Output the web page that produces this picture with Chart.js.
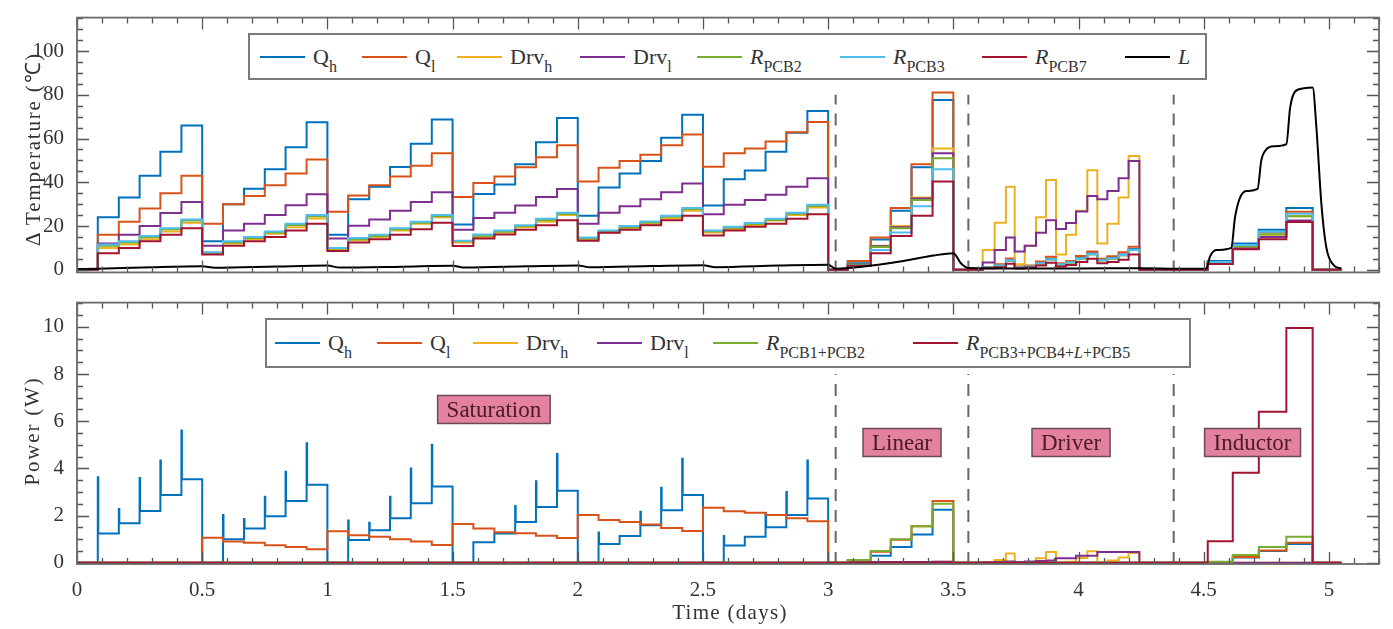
<!DOCTYPE html>
<html>
<head>
<meta charset="utf-8">
<script src="https://cdn.jsdelivr.net/npm/chart.js@4.4.1/dist/chart.umd.min.js"></script>
<style>
  body { margin: 0; background: #fff; }
  #wrap { position: relative; width: 1393px; height: 629px; overflow: hidden;
          font-family: 'Liberation Serif', 'Times New Roman', serif; color: #333; }
  canvas { position: absolute; left: 0; }
  #cTop { top: 0; }
  #cBot { top: 285px; }
  .legend { position: absolute; background: #fff; border: 2px solid #7a7a7a; box-sizing: border-box; }
  .item { position: absolute; top: 0; height: 100%; display: flex; align-items: center;
          font-size: 22px; white-space: nowrap; color: #333; }
  .item .ln { display: inline-block; width: 45px; height: 2px; margin-right: 8px; }
  .item sub { font-size: 16px; vertical-align: -8px; line-height: 0; }
  .ytitle { position: absolute; transform: translate(-50%, -50%) rotate(-90deg);
            white-space: nowrap; font-size: 21px; letter-spacing: 1.8px; color: #333; }
  .xtitle { position: absolute; transform: translate(-50%, -50%);
            white-space: nowrap; font-size: 21px; letter-spacing: 1.3px; color: #333; }
</style>
</head>
<body>
<div id="wrap">
  <canvas id="cTop" width="1393" height="290"></canvas>
  <canvas id="cBot" width="1393" height="344"></canvas>
  <div class="legend" id="legTop" style="left:248px;top:33px;width:959px;height:47px"></div>
  <div class="legend" id="legBot" style="left:265px;top:318px;width:926px;height:50px"></div>
  <div class="ytitle" style="left:32px;top:149px">Δ Temperature (℃)</div>
  <div class="ytitle" style="left:32px;top:431px">Power (W)</div>
  <div class="xtitle" style="left:730px;top:612px">Time (days)</div>
</div>
<script>
// ---- axes ----
const xMax = 5.2;
const xMajor = [0, 0.5, 1, 1.5, 2, 2.5, 3, 3.5, 4, 4.5, 5];
const tempTicks = [0, 20, 40, 60, 80, 100];
const powerTicks = [0, 2, 4, 6, 8, 10];
const phaseBounds = [3.03, 3.56, 4.38];

// ---- time breakpoints (days); a level holds from its time to the next one ----
const tSat = [0, 0.083, 0.167, 0.25, 0.333, 0.417, 0.5, 0.583, 0.667, 0.75, 0.833, 0.917,
  1.0, 1.083, 1.167, 1.25, 1.333, 1.417, 1.5, 1.583, 1.667, 1.75, 1.833, 1.917,
  2.0, 2.083, 2.167, 2.25, 2.333, 2.417, 2.5, 2.583, 2.667, 2.75, 2.833, 2.917, 3.0];
const tLin = [3.078, 3.17, 3.25, 3.333, 3.417, 3.5];
const tDrv = [3.617, 3.665, 3.71, 3.745, 3.785, 3.83, 3.87, 3.91, 3.95, 3.99, 4.035, 4.075,
  4.115, 4.16, 4.2, 4.243];
const tInd = [4.516, 4.616, 4.72, 4.83, 4.935];
const tEnd = 5.05;

// ---- temperature rise (°C) ----
const tempQh = {
  sat: [0, 24, 33, 43, 54, 66, 13, 30, 37, 46, 56, 67.5, 16, 32.3, 38, 47, 57.6, 68.7,
    20.7, 34.7, 39, 48.3, 58.3, 69.4, 24.7, 37.6, 44, 49.7, 60.4, 70.9, 29.4, 41.4, 45.4, 54, 62.6, 72.6, 0],
  lin: [3.0, 13.8, 27, 46.9, 77.6, 0],
  drv: [1, 2, 4.5, 1, 1.5, 3, 5, 2.5, 3.5, 5.5, 7.5, 4.5, 5.5, 7, 9.5, 0],
  ind: [4, 12, 18.3, 28.3, 0]
};
const tempQl = {
  sat: [0, 16, 22, 28, 35, 43, 21, 30, 33.7, 38.6, 44, 50.4, 26.5, 34, 38.6, 42.6, 47.6, 53.3,
    33.3, 39.7, 42.6, 46.9, 51.4, 56.9, 40.4, 46.6, 49.7, 52.6, 56.9, 61.9, 47.1, 53.3, 55.4, 58.6, 62.9, 67.6, 0],
  lin: [4.0, 14.7, 28.3, 48.3, 81, 0],
  drv: [1.2, 2.5, 5.2, 1.5, 2, 3.8, 6, 3, 4, 6.3, 8.3, 5, 6.2, 8, 10.5, 0],
  ind: [3.6, 11.2, 17.2, 26.5, 0]
};
const tempDrvh = {
  sat: [0, 10, 11.5, 14, 17.5, 21.5, 7.5, 12, 14, 16.5, 19.5, 23.5, 9.5, 13.5, 15, 18, 21, 24,
    12.5, 15, 17, 19.5, 22, 25, 14, 17, 19, 21, 23.5, 27, 17, 18.5, 20.5, 22.5, 25, 28.5, 0],
  lin: [2.3, 11, 20, 33, 55.4, 0],
  drv: [9, 21.5, 38, 2.5, 11, 24, 41, 7, 16, 27, 45.5, 12, 21, 33, 52, 0],
  ind: [3, 10.2, 16, 24.5, 0]
};
const tempDrvl = {
  sat: [0, 12, 16, 20, 26, 31, 11, 18, 21, 25, 29.5, 34.5, 14.3, 20.1, 23, 27, 31, 35.4,
    18.3, 23.7, 26.1, 29.4, 33.3, 36.9, 21, 26.1, 29, 32.3, 35.4, 39.4, 25.4, 29.7, 31.9, 34.3, 38, 41.9, 0],
  lin: [2.3, 10.8, 19.5, 32.6, 53.3, 0],
  drv: [3.3, 9, 14.7, 8.3, 11, 16.9, 22.6, 18.6, 21.4, 26.6, 33.7, 32.3, 36, 41.9, 49.7, 0],
  ind: [2.8, 9.8, 15, 22.5, 0]
};
const tempPcb2 = {
  sat: [0, 11, 12.5, 15, 18.5, 22.5, 7.8, 12.5, 14.5, 17, 20.5, 24.5, 9.7, 14, 15.5, 18.5, 21.5, 24.5,
    13, 15.6, 17.5, 20, 22.8, 25.6, 14.3, 17.5, 19.5, 21.6, 24.2, 27.8, 17.6, 19.2, 21, 22.8, 25.6, 29.2, 0],
  lin: [2.3, 10.4, 19, 31.9, 51, 0],
  drv: [0.9, 1.8, 4, 1, 1.4, 2.8, 4.6, 2.3, 3.2, 5, 7, 4.2, 5, 6.5, 9, 0],
  ind: [3.2, 10.6, 16.3, 24.5, 0]
};
const tempPcb3 = {
  sat: [0, 11.5, 13, 15.5, 19, 23, 8, 13, 15, 17.5, 21, 25, 10, 14.5, 16, 19, 22, 25,
    13.3, 16.1, 18, 20.4, 23.3, 26.1, 14.7, 18, 20, 22.1, 24.7, 28.3, 18, 19.7, 21.4, 23.3, 26.1, 29.7, 0],
  lin: [2.0, 9, 17, 29, 46, 0],
  drv: [1, 2, 4.3, 1, 1.5, 3, 4.8, 2.5, 3.4, 5.3, 7.2, 4.4, 5.3, 6.8, 9.2, 0],
  ind: [3.5, 11.3, 17.4, 25.6, 0]
};
const tempPcb7 = {
  sat: [0, 7.5, 10, 13, 16, 19, 7, 11, 13, 15, 18, 21, 8.6, 12.5, 14, 16, 18.5, 21.5,
    10.9, 14.3, 16.1, 18.3, 20.4, 22.6, 13.3, 16.9, 18.3, 20.4, 22.6, 24.7, 15.7, 18, 19.7, 21.1, 23.3, 25.4, 0],
  lin: [1.8, 7.6, 15.4, 24.7, 40.4, 0],
  drv: [0.6, 1.2, 2.8, 0.6, 1, 2, 3.2, 1.5, 2.2, 3.5, 5, 3, 3.5, 4.6, 7, 0],
  ind: [2.6, 9.4, 14, 21.9, 0]
};
// inductor temperature, smooth curve
const tempLx = [0, 0.083, 0.3, 0.5, 0.55, 0.8, 1.0, 1.05, 1.3, 1.5, 1.55, 1.8, 2.0, 2.05, 2.3, 2.5,
  2.55, 2.8, 3.0, 3.03, 3.08, 3.2, 3.3, 3.42, 3.5, 3.53, 3.56, 3.8, 4.0, 4.25, 4.4, 4.51, 4.525, 4.55,
  4.61, 4.625, 4.645, 4.67, 4.715, 4.73, 4.75, 4.78, 4.83, 4.845, 4.865, 4.9, 4.935, 4.95, 4.97, 4.99, 5.02, 5.05];
const tempLy = [0.3, 0.5, 1.2, 1.6, 0.9, 1.5, 1.9, 1.0, 1.4, 1.8, 1.0, 1.6, 2.0, 1.1, 1.7, 2.1,
  1.2, 1.9, 2.3, 0.5, 0.8, 2.3, 4, 6.5, 7.6, 3, 0.8, 0.6, 0.6, 0.7, 0.5, 0.5, 6, 9,
  10, 24, 33, 36, 37, 50, 55, 56.5, 57.5, 74, 81.5, 83, 83.3, 65, 30, 10, 2, 0.5];

// ---- power (W) ----
const powQh = {
  sat: [0, 1.24, 1.68, 2.2, 2.87, 3.54, 0, 1.0, 1.45, 1.97, 2.62, 3.31, 0, 0.97, 1.38, 1.89, 2.52, 3.24,
    0, 0.87, 1.24, 1.73, 2.37, 3.05, 0, 0.8, 1.14, 1.59, 2.23, 2.87, 0, 0.73, 1.1, 1.51, 2.03, 2.73, 0],
  lin: [0.05, 0.3, 0.67, 1.2, 2.25, 0],
  ind: [0.02, 0.23, 0.5, 0.8, 0]
};
const powQhSpike = [null, 3.63, 2.28, 3.59, 4.34, 5.61, null, 2.03, 1.86, 2.8, 3.86, 5.07,
  null, 1.79, 1.7, 2.8, 4.0, 5.0, null, null, null, 2.41, 3.46, 4.61,
  null, 1.28, null, 2.16, 3.18, 4.41, null, 1.14, null, 2.1, 3.0, 4.34, null];
const powQl = {
  sat: [0, 0, 0, 0, 0, 0, 1.06, 0.9, 0.85, 0.75, 0.67, 0.57, 1.34, 1.17, 1.1, 1.0, 0.9, 0.76,
    1.65, 1.45, 1.3, 1.25, 1.15, 1.05, 2.03, 1.82, 1.73, 1.62, 1.48, 1.35, 2.33, 2.19, 2.12, 2.03, 1.89, 1.76, 0],
  lin: [0.1, 0.47, 0.98, 1.55, 2.62, 0],
  ind: [0.02, 0.25, 0.52, 0.85, 0]
};
const powDrvh = {
  lin: [0.02, 0.03, 0.03, 0.04, 0.05, 0],
  drv: [0.03, 0.12, 0.4, 0, 0.03, 0.19, 0.46, 0, 0.05, 0.2, 0.49, 0, 0.1, 0.23, 0.42, 0]
};
const powDrvl = {
  lin: [0.02, 0.03, 0.03, 0.04, 0.05, 0],
  drv: [0.02, 0.04, 0.06, 0.04, 0.06, 0.08, 0.1, 0.19, 0.19, 0.3, 0.3, 0.46, 0.46, 0.46, 0.46, 0]
};
const powPcb12 = {
  lin: [0.12, 0.5, 1.0, 1.55, 2.5, 0],
  ind: [0.05, 0.33, 0.67, 1.1, 0]
};
const powPcb345 = {
  ind: [0.91, 3.82, 6.4, 9.95, 0]
};

// ---- labels / colours ----
const colQh = '#0072BD', colQl = '#D95319', colDrvh = '#EDB120', colDrvl = '#7E2F8E',
  colGreen = '#77AC30', colCyan = '#4DBEEE', colRed = '#A2142F', colL = '#000000';
const topLabels = ['Q<sub>h</sub>', 'Q<sub>l</sub>', 'Drv<sub>h</sub>', 'Drv<sub>l</sub>',
  '<i>R</i><sub>PCB2</sub>', '<i>R</i><sub>PCB3</sub>', '<i>R</i><sub>PCB7</sub>', '<i>L</i>'];
const topColors = [colQh, colQl, colDrvh, colDrvl, colGreen, colCyan, colRed, colL];
const topLegendX = [10, 112, 207, 330, 447, 590, 732, 875];
const botLabels = ['Q<sub>h</sub>', 'Q<sub>l</sub>', 'Drv<sub>h</sub>', 'Drv<sub>l</sub>',
  '<i>R</i><sub>PCB1+PCB2</sub>', '<i>R</i><sub>PCB3+PCB4+<i>L</i>+PCB5</sub>'];
const botColors = [colQh, colQl, colDrvh, colDrvl, colGreen, colRed];
const botLegendX = [8, 110, 206, 330, 446, 646];
const phaseNames = ['Saturation', 'Linear', 'Driver', 'Inductor'];
const phaseNameX = [1.665, 3.295, 3.97, 4.695];
const phaseNameY = [6.5, 5.1, 5.1, 5.1];

const FONT = "'Liberation Serif', 'Times New Roman', serif";

function stepSeries(s, spikes) {
  const pts = [{ x: 0, y: 0 }];
  const phases = [[tSat, s.sat], [tLin, s.lin], [tDrv, s.drv], [tInd, s.ind]];
  for (const [ts, vs] of phases) {
    if (!vs) continue;
    ts.forEach((t, i) => {
      if (spikes && ts === tSat && spikes[i] != null) {
        pts.push({ x: t, y: spikes[i] });
        pts.push({ x: t + 0.002, y: vs[i] });
      } else {
        pts.push({ x: t, y: vs[i] });
      }
    });
  }
  pts.push({ x: tEnd, y: 0 });
  return pts;
}

function ds(data, color, i, stepped = true) {
  return {
    data, borderColor: color, backgroundColor: color, borderWidth: 2,
    pointRadius: 0, stepped, fill: false, order: -i,
    tension: stepped ? 0 : 0.3, cubicInterpolationMode: stepped ? 'default' : 'monotone'
  };
}

// frame with inward ticks on all four sides
const framePlugin = {
  id: 'frame',
  afterDatasetsDraw(chart, args, opts) {
    const { ctx, chartArea: a } = chart;
    const xs = chart.scales.x, ys = chart.scales.y;
    ctx.save();
    ctx.strokeStyle = '#555';
    ctx.lineWidth = 1.3;
    ctx.beginPath();
    for (let k = 0; k <= Math.round(xMax * 10); k++) {
      const v = k / 10;
      const px = Math.round(xs.getPixelForValue(v)) + 0.5;
      const len = k % 5 === 0 ? 12 : 6;
      ctx.moveTo(px, a.top); ctx.lineTo(px, a.top + len);
      ctx.moveTo(px, a.bottom); ctx.lineTo(px, a.bottom - len);
    }
    for (let v = 0; v <= ys.max; v += opts.minor) {
      const py = Math.round(ys.getPixelForValue(v)) + 0.5;
      const major = Math.abs(v / opts.major - Math.round(v / opts.major)) < 1e-6;
      const len = major ? 12 : 6;
      ctx.moveTo(a.left, py); ctx.lineTo(a.left + len, py);
      ctx.moveTo(a.right, py); ctx.lineTo(a.right - len, py);
    }
    ctx.stroke();
    ctx.strokeStyle = '#6a6a6a';
    ctx.lineWidth = 1.8;
    ctx.strokeRect(a.left, a.top, a.right - a.left, a.bottom - a.top);
    ctx.restore();
  }
};

// dashed phase separators
const dashPlugin = {
  id: 'dash',
  beforeDatasetsDraw(chart, args, opts) {
    const { ctx, chartArea: a } = chart;
    const xs = chart.scales.x, ys = chart.scales.y;
    ctx.save();
    ctx.strokeStyle = '#666';
    ctx.lineWidth = 2;
    ctx.setLineDash([12, 9]);
    for (const b of phaseBounds) {
      const px = xs.getPixelForValue(b);
      ctx.beginPath();
      ctx.moveTo(px, a.bottom);
      ctx.lineTo(px, ys.getPixelForValue(opts.top));
      ctx.stroke();
    }
    ctx.restore();
  }
};

// phase name boxes
const phasePlugin = {
  id: 'phaseNames',
  afterDatasetsDraw(chart) {
    const { ctx } = chart;
    const xs = chart.scales.x, ys = chart.scales.y;
    ctx.save();
    ctx.font = `23px ${FONT}`;
    ctx.textAlign = 'center';
    ctx.textBaseline = 'middle';
    phaseNames.forEach((name, i) => {
      const cx = xs.getPixelForValue(phaseNameX[i]);
      const cy = ys.getPixelForValue(phaseNameY[i]);
      const w = ctx.measureText(name).width + 18, h = 28;
      ctx.fillStyle = '#e3819f';
      ctx.fillRect(cx - w / 2, cy - h / 2, w, h);
      ctx.strokeStyle = '#6b4a52';
      ctx.lineWidth = 1.5;
      ctx.strokeRect(cx - w / 2, cy - h / 2, w, h);
      ctx.fillStyle = '#4a1a26';
      ctx.fillText(name, cx, cy + 1);
    });
    ctx.restore();
  }
};

function opts(yMin, yMax, yTicks, minor, major, dashTop, showX, pad) {
  return {
    responsive: false, animation: false, events: [],
    layout: { padding: pad },
    plugins: {
      legend: { display: false }, tooltip: { enabled: false },
      frame: { minor, major }, dash: { top: dashTop }
    },
    scales: {
      x: {
        type: 'linear', min: 0, max: xMax, display: showX,
        grid: { display: false }, border: { display: false },
        afterBuildTicks: s => { s.ticks = xMajor.map(v => ({ value: v })); },
        afterFit: s => { if (showX) s.height = 65; },
        ticks: { font: { family: FONT, size: 21 }, color: '#333', padding: 6,
          maxRotation: 0, autoSkip: false, callback: v => String(v) }
      },
      y: {
        min: yMin, max: yMax,
        grid: { display: false }, border: { display: false },
        afterBuildTicks: s => { s.ticks = yTicks.map(v => ({ value: v })); },
        afterFit: s => { s.width = 77; },
        ticks: { font: { family: FONT, size: 21 }, color: '#333', padding: 5, callback: v => String(v) }
      }
    }
  };
}

const topSets = [
  ds(stepSeries(tempQh), colQh, 0),
  ds(stepSeries(tempQl), colQl, 1),
  ds(stepSeries(tempDrvh), colDrvh, 2),
  ds(stepSeries(tempDrvl), colDrvl, 3),
  ds(stepSeries(tempPcb2), colGreen, 4),
  ds(stepSeries(tempPcb3), colCyan, 5),
  ds(stepSeries(tempPcb7), colRed, 6),
  ds(tempLx.map((x, i) => ({ x, y: tempLy[i] })), colL, 7, false)
];
const botSets = [
  ds(stepSeries(powQh, powQhSpike), colQh, 0),
  ds(stepSeries(powQl), colQl, 1),
  ds(stepSeries(powDrvh), colDrvh, 2),
  ds(stepSeries(powDrvl), colDrvl, 3),
  ds(stepSeries(powPcb12), colGreen, 4),
  ds(stepSeries(powPcb345), colRed, 5)
];

new Chart(document.getElementById('cTop'), {
  type: 'line',
  data: { datasets: topSets },
  options: opts(-1.2, 115.3, tempTicks, 5, 20, 80, false, { left: 0, right: 14, top: 10, bottom: 8 }),
  plugins: [dashPlugin, framePlugin]
});
new Chart(document.getElementById('cBot'), {
  type: 'line',
  data: { datasets: botSets },
  options: opts(-0.05, 11.03, powerTicks, 0.5, 2, 8, true, { left: 0, right: 14, top: 8, bottom: 0 }),
  plugins: [dashPlugin, framePlugin, phasePlugin]
});

function buildLegend(el, labels, colors, xs) {
  labels.forEach((lab, i) => {
    const it = document.createElement('div');
    it.className = 'item';
    it.style.left = xs[i] + 'px';
    it.innerHTML = `<span class="ln" style="background:${colors[i]}"></span><span>${lab}</span>`;
    el.appendChild(it);
  });
}
buildLegend(document.getElementById('legTop'), topLabels, topColors, topLegendX);
buildLegend(document.getElementById('legBot'), botLabels, botColors, botLegendX);
</script>
</body>
</html>
